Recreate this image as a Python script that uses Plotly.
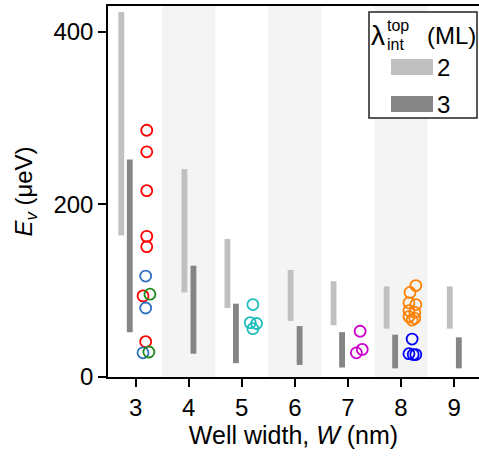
import plotly.graph_objects as go

# ---------------- data ----------------
W = [3, 4, 5, 6, 7, 8, 9]
lam2_low = [164, 98, 80, 65, 60, 56, 56]
lam2_high = [423, 241, 160, 124, 111, 105, 105]
lam3_low = [52, 27, 16, 14, 11, 10, 10]
lam3_high = [252, 129, 85, 59, 52, 49, 46]

w3_red = [286, 261, 216, 163, 151, 94, 41]
w3_blue = [117, 80, 28]
w3_green = [96, 29]
w5_cyan = [84, 63, 62, 56]
w7_magenta = [53, 32, 28]
w8_orange = [106, 98, 86, 84, 77, 75, 70, 68, 66]
w8_blue = [44, 27, 26, 26]

legend_labels = ["2", "3"]
x_ticks = [3, 4, 5, 6, 7, 8, 9]
y_ticks = [0, 200, 400]

# ---------------- styling / layout helpers ----------------
FONT = "Liberation Sans, Arial, Helvetica, sans-serif"
LIGHT = "#c0c0c0"
DARK = "#858585"
W_PX, H_PX = 479, 456
L, R, T, B = 108, 0, 6, 79
PW, PH = W_PX - L - R, H_PX - T - B


def px(xp):
    return (xp - L) / PW


def py(yp):
    return (T + PH - yp) / PH


groups = [
    (3, w3_red, "#ff0000", [0.21, 0.21, 0.21, 0.21, 0.21, 0.14, 0.19]),
    (3, w3_blue, "#2f6fbf", [0.19, 0.19, 0.14]),
    (3, w3_green, "#1f8a1f", [0.27, 0.25]),
    (5, w5_cyan, "#1fbcbc", [0.21, 0.16, 0.28, 0.21]),
    (7, w7_magenta, "#cc00cc", [0.23, 0.27, 0.16]),
    (8, w8_orange, "#ff8000", [0.28, 0.17, 0.15, 0.28, 0.15, 0.26, 0.15, 0.26, 0.21]),
    (8, w8_blue, "#0000ff", [0.21, 0.15, 0.23, 0.28]),
]
with_points = {g[0] for g in groups}

fig = go.Figure()

x2 = [w + (-0.27 if w in with_points else -0.08) for w in W]
x3 = [w + (-0.11 if w in with_points else 0.09) for w in W]

fig.add_trace(go.Bar(x=x2, y=[h - l for h, l in zip(lam2_high, lam2_low)], base=lam2_low,
                     width=0.11, marker=dict(color=LIGHT, line=dict(width=0)), showlegend=False))
fig.add_trace(go.Bar(x=x3, y=[h - l for h, l in zip(lam3_high, lam3_low)], base=lam3_low,
                     width=0.11, marker=dict(color=DARK, line=dict(width=0)), showlegend=False))

for w, vals, col, offs in groups:
    fig.add_trace(go.Scatter(
        x=[w + o for o in offs[:len(vals)]], y=vals, mode="markers",
        marker=dict(symbol="circle-open", size=11, color=col, line=dict(width=1.8, color=col)),
        showlegend=False, cliponaxis=False))

shapes = []
for c in [4, 6, 8]:
    shapes.append(dict(type="rect", xref="x", yref="paper", x0=c - 0.5, x1=c + 0.5, y0=0, y1=1,
                       fillcolor="#f4f4f4", line=dict(width=0), layer="below"))

# legend box
shapes.append(dict(type="rect", xref="paper", yref="paper", x0=px(369), x1=px(477), y0=py(118), y1=py(12),
                   fillcolor="white", line=dict(color="#222", width=1.5), layer="above"))
shapes.append(dict(type="rect", xref="paper", yref="paper", x0=px(391), x1=px(433), y0=py(75), y1=py(59),
                   fillcolor=LIGHT, line=dict(width=0), layer="above"))
shapes.append(dict(type="rect", xref="paper", yref="paper", x0=px(391), x1=px(433), y0=py(112), y1=py(96),
                   fillcolor=DARK, line=dict(width=0), layer="above"))

annotations = [
    dict(x=px(370), y=py(35), text="λ", font=dict(size=28, family=FONT, color="black"),
         xanchor="left", yanchor="middle"),
    dict(x=px(386), y=py(25), text="top", font=dict(size=16, family=FONT, color="black"),
         xanchor="left", yanchor="middle"),
    dict(x=px(386), y=py(45), text="int", font=dict(size=16, family=FONT, color="black"),
         xanchor="left", yanchor="middle"),
    dict(x=px(477), y=py(35), text="(ML)", font=dict(size=24, family=FONT, color="black"),
         xanchor="right", yanchor="middle"),
    dict(x=px(436), y=py(67), text=legend_labels[0], font=dict(size=24, family=FONT, color="black"),
         xanchor="left", yanchor="middle"),
    dict(x=px(436), y=py(104), text=legend_labels[1], font=dict(size=24, family=FONT, color="black"),
         xanchor="left", yanchor="middle"),
]
for a in annotations:
    a.update(xref="paper", yref="paper", showarrow=False, borderpad=0)

fig.update_layout(
    width=W_PX, height=H_PX,
    margin=dict(l=L, r=R, t=T, b=B, pad=0),
    plot_bgcolor="white", paper_bgcolor="white",
    font=dict(family=FONT, size=23, color="black"),
    barmode="overlay",
    shapes=shapes, annotations=annotations,
    xaxis=dict(range=[2.48, 9.47], tickvals=x_ticks, showgrid=False, zeroline=False,
               showline=True, linecolor="black", linewidth=1.5, mirror=True,
               ticks="outside", ticklen=8, tickwidth=1.5, tickcolor="black",
               tickfont=dict(size=24), title=dict(text="Well width, <i>W</i> (nm)", font=dict(size=25), standoff=5)),
    yaxis=dict(range=[0, 430], tickvals=y_ticks, showgrid=False, zeroline=False,
               showline=True, linecolor="black", linewidth=1.5,
               ticks="outside", ticklen=8, tickwidth=1.5, tickcolor="black",
               tickfont=dict(size=24), title=dict(text="<i>E<sub>v</sub></i> (μeV)", font=dict(size=24), standoff=14)),
)

fig.write_html("out.html")
